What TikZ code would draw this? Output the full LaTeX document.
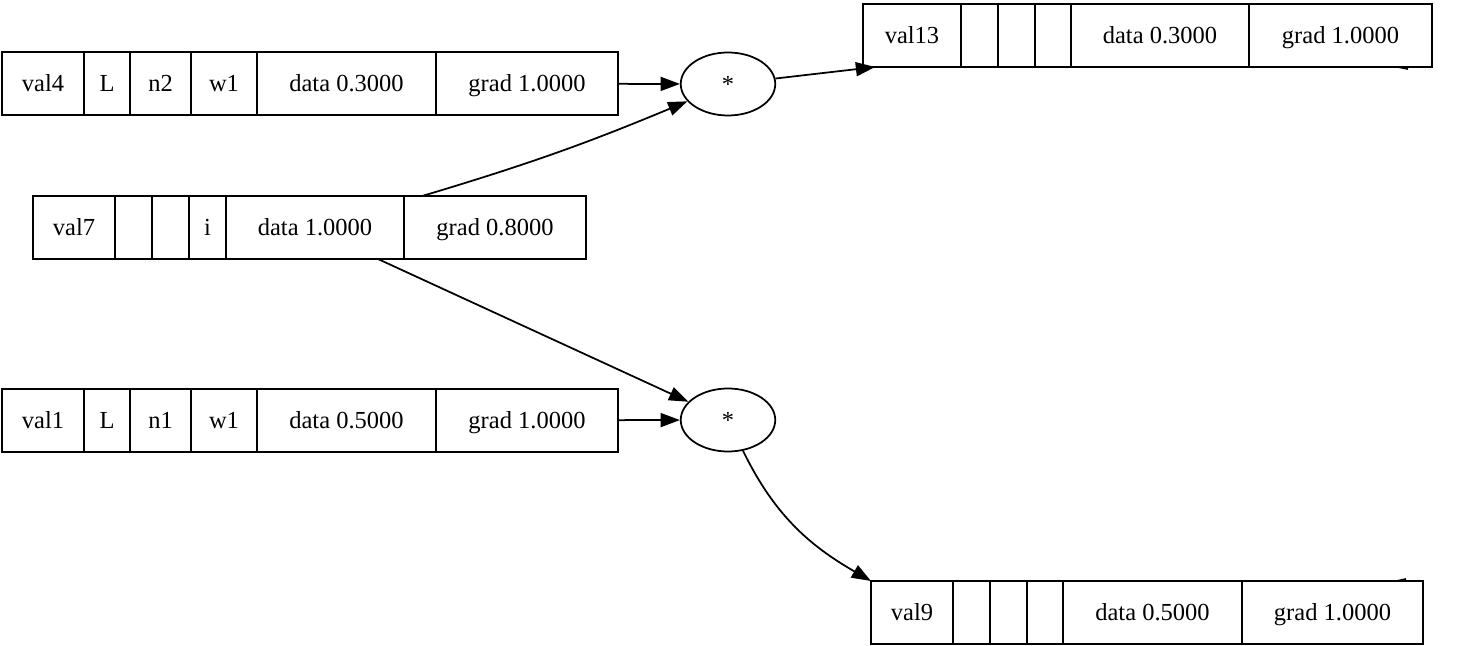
\documentclass[tikz,border=0pt]{standalone}
\usepackage{fontspec}
\setmainfont{Liberation Serif}
\usetikzlibrary{%
  arrows.meta,%
  shapes.geometric,% wg. ellipse
  positioning,%
  fit,%
  calc
}

\begin{document}
\begin{tikzpicture}
  [
  x=0.5714pt, y=-0.5714pt,
  font=\fontsize{14}{16}\selectfont, draw=black, >={Triangle[length=11pt,width=8pt]}, line width=1pt,
  cell/.style={rectangle, minimum height=36pt, inner sep=0pt, outer sep=0pt, text height=12.5pt, text depth=3pt, draw=black},
  record/.style={rectangle, inner sep=0pt, outer sep=0pt},
  op/.style={ellipse, minimum width=54pt, minimum height=36pt, inner sep=0pt, draw=black}
  ]

\useasboundingbox (0,0) rectangle (1462,646);

\foreach \lft/\rgt/\txt [count=\i] in {2/84/val4, 84/130/L, 130/191/n2, 191/257/w1, 257/436/data 0.3000, 436/618/grad 1.0000} {
  \node[cell, minimum width={(\rgt-\lft)*0.5714pt}] (val4-\i) at ({(\lft+\rgt)/2},83.5) {\txt};
}
\node[record, fit=(val4-1)(val4-6)] (val4) {};

\foreach \lft/\rgt/\txt [count=\i] in {33/115/val7, 115/152/{}, 152/189/{}, 189/226/i, 226/404/data 1.0000, 404/586/grad 0.8000} {
  \node[cell, minimum width={(\rgt-\lft)*0.5714pt}] (val7-\i) at ({(\lft+\rgt)/2},227.5) {\txt};
}
\node[record, fit=(val7-1)(val7-6)] (val7) {};

\foreach \lft/\rgt/\txt [count=\i] in {2/84/val1, 84/130/L, 130/191/n1, 191/257/w1, 257/436/data 0.5000, 436/618/grad 1.0000} {
  \node[cell, minimum width={(\rgt-\lft)*0.5714pt}] (val1-\i) at ({(\lft+\rgt)/2},420.5) {\txt};
}
\node[record, fit=(val1-1)(val1-6)] (val1) {};

\foreach \lft/\rgt/\txt [count=\i] in {863/961/val13, 961/998/{}, 998/1035/{}, 1035/1071/{}, 1071/1249/data 0.3000, 1249/1432/grad 1.0000} {
  \node[cell, minimum width={(\rgt-\lft)*0.5714pt}] (val13-\i) at ({(\lft+\rgt)/2},35.5) {\txt};
}
\node[record, fit=(val13-1)(val13-6)] (val13) {};

\foreach \lft/\rgt/\txt [count=\i] in {871/953/val9, 953/990/{}, 990/1027/{}, 1027/1063/{}, 1063/1242/data 0.5000, 1242/1423/grad 1.0000} {
  \node[cell, minimum width={(\rgt-\lft)*0.5714pt}] (val9-\i) at ({(\lft+\rgt)/2},612.5) {\txt};
}
\node[record, fit=(val9-1)(val9-6)] (val9) {};

\node[op] (mul1) at (728,84) {*};
\node[op] (mul2) at (728,420) {*};

\draw[->] (val4) -- (mul1);
\draw[->] ($(val7-6.north west)!0.1!(val7-6.north east)$) to[bend right=3] (mul1);
\draw[->] (val7) -- (mul2);
\draw[->] (val1) -- (mul2);
\draw[->] (mul1) -- (val13);
\draw[->] (mul2) to[out=-64,in=150] (val9.north west);

% edges leaving the picture
\coordinate (cut13) at (1408,69);
\coordinate (cut9) at (1406,579);
\draw ($(val13.south east)+(-34,0)$) -- (cut13);
\draw ($(val9.north east)+(-26,0)$) -- (cut9);

\end{tikzpicture}
\end{document}
